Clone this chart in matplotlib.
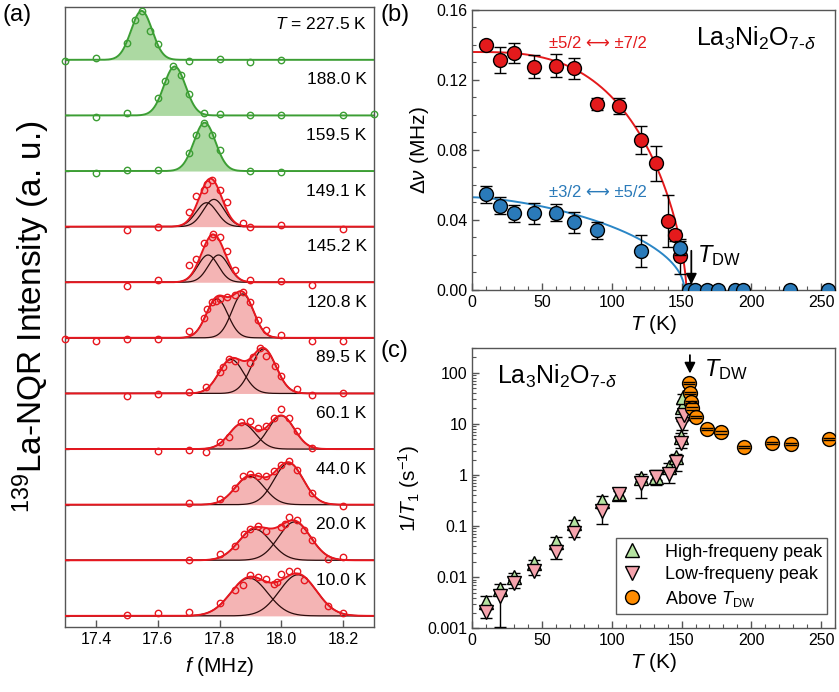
import numpy as np
import matplotlib
matplotlib.use("Agg")
import matplotlib.pyplot as plt
from matplotlib.ticker import MultipleLocator, FixedLocator, NullFormatter, LogLocator

plt.rcParams['font.family'] = ['Liberation Sans', 'DejaVu Sans']
plt.rcParams['mathtext.fontset'] = 'custom'
plt.rcParams['mathtext.rm'] = 'Liberation Sans'
plt.rcParams['mathtext.it'] = 'Liberation Sans:italic'
plt.rcParams['mathtext.bf'] = 'Liberation Sans:bold'

# ---------------- Panel (a): NQR spectra ----------------
temps_a = ['227.5', '188.0', '159.5', '149.1', '145.2', '120.8', '89.5', '60.1', '44.0', '20.0', '10.0']

f_2275 = [17.3, 17.4, 17.5, 17.525, 17.55, 17.575, 17.6, 17.7, 17.8, 17.9, 18.0]
i_2275 = [-0.02, 0.03, 0.31, 0.71, 0.88, 0.51, 0.29, -0.03, 0.02, -0.04, -0.01]
f_1880 = [17.4, 17.5, 17.6, 17.625, 17.65, 17.675, 17.7, 17.75, 17.8, 17.9, 18.0, 18.2, 18.3]
i_1880 = [-0.02, 0.04, 0.31, 0.62, 0.88, 0.73, 0.39, 0.05, 0.02, 0.0, 0.0, 0.01, 0.02]
f_1595 = [17.4, 17.5, 17.6, 17.7, 17.725, 17.75, 17.775, 17.8, 17.9, 18.0]
i_1595 = [-0.03, 0.01, 0.02, 0.32, 0.65, 0.86, 0.64, 0.37, 0.0, -0.02]
f_1491 = [17.5, 17.6, 17.7, 17.725, 17.75, 17.76, 17.775, 17.8, 17.825, 17.875, 17.9, 18.0, 18.2]
i_1491 = [-0.06, 0.0, 0.27, 0.56, 0.65, 0.77, 0.83, 0.66, 0.44, 0.06, 0.0, 0.03, -0.05]
f_1452 = [17.5, 17.6, 17.7, 17.725, 17.75, 17.775, 17.78, 17.8, 17.825, 17.85, 17.9, 18.0, 18.1]
i_1452 = [-0.07, 0.04, 0.31, 0.42, 0.70, 0.81, 0.87, 0.81, 0.57, 0.22, 0.04, 0.03, -0.05]
f_1208 = [17.3, 17.4, 17.5, 17.6, 17.7, 17.75, 17.76, 17.775, 17.79, 17.8, 17.825, 17.85,
          17.875, 17.9, 17.925, 17.95, 18.0, 18.1, 18.2]
i_1208 = [-0.02, -0.05, -0.02, -0.02, 0.13, 0.36, 0.52, 0.64, 0.66, 0.70, 0.73, 0.77,
          0.83, 0.64, 0.32, 0.14, 0.05, -0.05, -0.05]
f_895 = [17.5, 17.6, 17.7, 17.755, 17.8, 17.81, 17.83, 17.85, 17.9, 17.91, 17.93, 17.95,
         17.98, 18.0, 18.05, 18.1, 18.2]
i_895 = [-0.05, -0.01, 0.02, 0.11, 0.38, 0.47, 0.62, 0.58, 0.55, 0.65, 0.82, 0.68,
         0.50, 0.31, 0.08, -0.03, 0.01]
f_601 = [17.6, 17.7, 17.757, 17.8, 17.83, 17.87, 17.9, 17.925, 17.95, 17.975, 18.0, 18.025, 18.05, 18.1]
i_601 = [-0.03, -0.02, -0.05, 0.12, 0.22, 0.48, 0.50, 0.37, 0.42, 0.55, 0.72, 0.55, 0.33, 0.02]
f_440 = [17.7, 17.8, 17.85, 17.875, 17.9, 17.925, 17.95, 17.975, 18.0, 18.025, 18.05, 18.1, 18.2]
i_440 = [0.03, 0.11, 0.30, 0.51, 0.55, 0.51, 0.52, 0.60, 0.72, 0.78, 0.63, 0.21, -0.03]
f_200 = [17.7, 17.8, 17.85, 17.88, 17.9, 17.925, 17.95, 18.0, 18.013, 18.025, 18.05, 18.075,
         18.1, 18.15, 18.2]
i_200 = [0.0, 0.11, 0.25, 0.48, 0.57, 0.62, 0.53, 0.60, 0.66, 0.77, 0.73, 0.54, 0.36, 0.02, 0.05]
f_100 = [17.5, 17.6, 17.7, 17.8, 17.85, 17.875, 17.9, 17.925, 17.95, 17.975, 17.985, 18.0,
         18.025, 18.05, 18.075, 18.15, 18.2]
i_100 = [0.02, 0.05, 0.07, 0.24, 0.46, 0.56, 0.73, 0.70, 0.67, 0.57, 0.61, 0.76,
         0.81, 0.80, 0.65, 0.18, 0.06]

freqs_a = [f_2275, f_1880, f_1595, f_1491, f_1452, f_1208, f_895, f_601, f_440, f_200, f_100]
ints_a = [i_2275, i_1880, i_1595, i_1491, i_1452, i_1208, i_895, i_601, i_440, i_200, i_100]

# Gaussian fit components: (center MHz, sigma MHz, amplitude)
fit_a = [
    [(17.548, 0.034, 0.88)],
    [(17.655, 0.035, 0.88)],
    [(17.752, 0.035, 0.87)],
    [(17.758, 0.034, 0.43), (17.782, 0.034, 0.49)],
    [(17.763, 0.033, 0.49), (17.797, 0.033, 0.49)],
    [(17.792, 0.035, 0.70), (17.875, 0.035, 0.79)],
    [(17.838, 0.040, 0.61), (17.943, 0.040, 0.80)],
    [(17.874, 0.042, 0.46), (18.000, 0.042, 0.60)],
    [(17.898, 0.047, 0.51), (18.024, 0.047, 0.75)],
    [(17.914, 0.052, 0.56), (18.043, 0.052, 0.69)],
    [(17.896, 0.060, 0.68), (18.054, 0.060, 0.74)],
]

# ---------------- Panel (b): splitting ----------------
T_red = [10, 20, 30, 44, 60.1, 73, 89.5, 105, 120.8, 132, 140, 145.2, 149.1]
dv_red = [0.140, 0.1314, 0.1352, 0.1276, 0.1282, 0.1267, 0.1063, 0.1051, 0.0857, 0.0724, 0.0394, 0.0312, 0.0194]
err_red = [0.0, 0.0076, 0.0057, 0.0064, 0.0067, 0.0060, 0.0035, 0.0045, 0.0080, 0.0100, 0.0150, 0.0030, 0.0100]
T_blue = [10, 20, 30, 44, 60.1, 73, 89.5, 120.8, 149.1, 155, 159.5, 168, 176, 188, 194, 227.5, 255]
dv_blue = [0.0547, 0.0482, 0.0438, 0.0438, 0.0442, 0.0387, 0.0341, 0.0223, 0.0242, 0, 0, 0, 0, 0, 0, 0, 0]
err_blue = [0.0048, 0.0050, 0.0050, 0.0060, 0.0050, 0.0060, 0.0050, 0.0090, 0.0040, 0, 0, 0, 0, 0, 0, 0, 0]
# fit: A * (1 - (T/Tc)^p)^beta
fit_red = dict(A=0.136, Tc=153.5, p=3.0, beta=0.65)
fit_blue = dict(A=0.053, Tc=152.0, p=1.5, beta=0.5)

# ---------------- Panel (c): 1/T1 ----------------
T_hf = [10, 20, 30, 44, 60.1, 73, 93, 105, 120.8, 132, 141, 146, 149.5, 150.5, 151.2]
r_hf = [0.0033, 0.0058, 0.0102, 0.019, 0.0495, 0.117, 0.31, 0.42, 0.88, 0.92, 1.45, 2.27, 5.4, 21, 33]
lo_hf = [0.0028, 0.0049, 0.0088, 0.016, 0.042, 0.10, 0.26, 0.36, 0.75, 0.78, 1.23, 1.93, 4.6, 18, 28]
hi_hf = [0.0042, 0.0072, 0.0120, 0.022, 0.062, 0.13, 0.38, 0.52, 1.05, 1.25, 1.70, 2.60, 6.5, 24, 38]
T_lf = [10, 20, 30, 44, 60.1, 73, 93, 105, 120.8, 132, 141, 146, 149.5, 150.5, 152]
r_lf = [0.0021, 0.0042, 0.0076, 0.0134, 0.0306, 0.072, 0.20, 0.42, 0.71, 0.90, 1.04, 1.8, 4.15, 9.8, 14.9]
lo_lf = [0.0016, 0.00105, 0.0062, 0.011, 0.023, 0.060, 0.11, 0.32, 0.35, 0.63, 0.70, 1.2, 3.3, 7.5, 12]
hi_lf = [0.0024, 0.0048, 0.0087, 0.0154, 0.035, 0.083, 0.23, 0.48, 0.82, 1.04, 1.20, 2.07, 4.8, 11.3, 17]
T_ab = [155.4, 155.9, 156.6, 157.8, 160, 168, 178, 195, 214.6, 228.5, 255.9]
r_ab = [63.6, 39.5, 27, 20, 13.8, 7.8, 6.8, 3.57, 4.27, 4.03, 4.97]

W, H = 839, 692
fig = plt.figure(figsize=(W / 100, H / 100), dpi=100)

def px_axes(l, t, r, b):
    return fig.add_axes([l / W, 1 - b / H, (r - l) / W, (b - t) / H])

spine_col = '#555555'

def style(ax):
    for s in ax.spines.values():
        s.set_color(spine_col)
        s.set_linewidth(1.0)
    ax.tick_params(which='both', direction='in', colors=spine_col, labelcolor='black',
                   labelsize=11.5, top=False, right=False)
    ax.tick_params(which='major', length=5, width=1.0)
    ax.tick_params(which='minor', length=3, width=0.8)

# ----- (a)
axa = px_axes(65, 7, 374, 627)
style(axa)
n = len(temps_a)
xx = np.linspace(17.3, 18.3, 600)
for k in range(n):
    off = n - 1 - k
    green = k < 3
    lc = '#3c9e34' if green else '#e8171f'
    fc = '#acd9a2' if green else '#f4b4b4'
    comps = [c * np.exp(-(xx - m) ** 2 / (2 * s ** 2)) for (m, s, c) in fit_a[k]]
    tot = np.sum(comps, axis=0)
    axa.fill_between(xx, off, off + tot, color=fc, lw=0, zorder=1)
    if len(comps) > 1:
        for cc in comps:
            axa.plot(xx, off + cc, color='#2a0c0c', lw=0.9, zorder=2)
    axa.plot(xx, off + tot, color=lc, lw=1.4, zorder=3)
    axa.plot(freqs_a[k], np.array(ints_a[k]) + off, 'o', ms=4.6, mfc='none', mec=lc, mew=1.0,
             zorder=4, clip_on=False)
    lab = (r'$T$ = ' + temps_a[k] + ' K') if k == 0 else (temps_a[k] + ' K')
    axa.text(18.276, off + 0.64, lab, ha='right', va='center', fontsize=12.5)
axa.set_xlim(17.3, 18.3)
axa.set_ylim(-0.2, 10.95)
axa.xaxis.set_major_locator(FixedLocator([17.4, 17.6, 17.8, 18.0, 18.2]))
axa.set_xticklabels(['17.4', '17.6', '17.8', '18.0', '18.2'])
axa.yaxis.set_major_locator(FixedLocator(list(range(n))))
axa.set_yticklabels([])
axa.tick_params(axis='y', length=3)
axa.set_xlabel(r'$f$ (MHz)', fontsize=15, labelpad=6)
axa.set_ylabel(r'$^{139}$La-NQR Intensity (a. u.)', fontsize=24, labelpad=6)
fig.text(3 / W, 1 - 4 / H, '(a)', fontsize=17, ha='left', va='top')

# ----- (b)
axb = px_axes(472.3, 10, 835, 290)
style(axb)
tt = np.linspace(0, 160, 800)
for fp, col in [(fit_red, '#e41a1c'), (fit_blue, '#2a86c6')]:
    tr = np.clip(tt / fp['Tc'], 0, 1)
    yy = fp['A'] * (1 - tr ** fp['p']) ** fp['beta']
    axb.plot(tt, yy, color=col, lw=1.4, zorder=2)
axb.errorbar(T_red, dv_red, yerr=err_red, fmt='o', ms=10, mfc='#e41a1c', mec='black', mew=1.0,
             ecolor='black', elinewidth=1.0, capsize=4, capthick=1.0, zorder=3)
axb.errorbar(T_blue, dv_blue, yerr=err_blue, fmt='o', ms=10, mfc='#2a7ab9', mec='black', mew=1.0,
             ecolor='black', elinewidth=1.0, capsize=4, capthick=1.0, zorder=4)
axb.set_xlim(0, 260)
axb.set_ylim(0, 0.16)
axb.xaxis.set_major_locator(MultipleLocator(50))
axb.xaxis.set_minor_locator(MultipleLocator(10))
axb.yaxis.set_major_locator(MultipleLocator(0.04))
axb.yaxis.set_minor_locator(MultipleLocator(0.01))
axb.yaxis.set_major_formatter(matplotlib.ticker.FormatStrFormatter('%.2f'))
axb.set_xlabel(r'$T$ (K)', fontsize=15, labelpad=2)
axb.set_ylabel(r'$\Delta\nu$ (MHz)', fontsize=15, labelpad=4)
axb.text(55, 0.141, '±5/2 \u27f7 ±7/2', color='#e41a1c', fontsize=12, va='center', ha='left')
axb.text(55, 0.0556, '±3/2 \u27f7 ±5/2', color='#2a7ab9', fontsize=12, va='center', ha='left')
axb.text(160.5, 0.1438, r'La$_3$Ni$_2$O$_{7\text{-}\delta}$', fontsize=18, va='center', ha='left')
axb.annotate('', xy=(157, 0.0015), xytext=(157, 0.024),
             arrowprops=dict(arrowstyle='-|>', color='black', lw=1.3, mutation_scale=16), zorder=6)
axb.text(161, 0.0195, r'$T_\mathrm{DW}$', fontsize=17, va='center', ha='left')
fig.text(381 / W, 1 - 4 / H, '(b)', fontsize=17, ha='left', va='top')

# ----- (c)
axc = px_axes(472.3, 348.3, 835, 628.3)
style(axc)
axc.set_yscale('log')
ekw = dict(ecolor='black', elinewidth=1.0, capsize=4, capthick=1.0)
axc.errorbar(T_hf, r_hf, yerr=[np.array(r_hf) - np.array(lo_hf), np.array(hi_hf) - np.array(r_hf)],
             fmt='^', ms=10, mfc='#b5e3a1', mec='black', mew=1.0, zorder=3,
             label='High-frequeny peak', **ekw)
axc.errorbar(T_lf, r_lf, yerr=[np.array(r_lf) - np.array(lo_lf), np.array(hi_lf) - np.array(r_lf)],
             fmt='v', ms=10, mfc='#f5a3ad', mec='black', mew=1.0, zorder=4,
             label='Low-frequeny peak', **ekw)
ab = axc.errorbar(T_ab, r_ab, yerr=np.array(r_ab) * 0.05, fmt='o', ms=10, mfc='#ff8c00', mec='black',
                  mew=1.0, zorder=5, label=r'Above $T_\mathrm{DW}$', **ekw)
for art in ab.lines[1]:
    art.set_zorder(6)
axc.set_xlim(0, 260)
axc.set_ylim(0.001, 300)
axc.xaxis.set_major_locator(MultipleLocator(50))
axc.xaxis.set_minor_locator(MultipleLocator(10))
axc.yaxis.set_major_locator(FixedLocator([0.001, 0.01, 0.1, 1, 10, 100]))
axc.set_yticklabels(['0.001', '0.01', '0.1', '1', '10', '100'])
axc.yaxis.set_minor_locator(LogLocator(base=10, subs=np.arange(2, 10), numticks=20))
axc.yaxis.set_minor_formatter(NullFormatter())
axc.set_xlabel(r'$T$ (K)', fontsize=15, labelpad=2)
axc.set_ylabel(r'1/$T_1$ (s$^{-1}$)', fontsize=15, labelpad=4)
axc.text(18, 83, r'La$_3$Ni$_2$O$_{7\text{-}\delta}$', fontsize=18, va='center', ha='left')
axc.annotate('', xy=(156, 85), xytext=(156, 250),
             arrowprops=dict(arrowstyle='-|>', color='black', lw=1.3, mutation_scale=16), zorder=6)
axc.text(166, 115, r'$T_\mathrm{DW}$', fontsize=17, va='center', ha='left')
handles, labels = axc.get_legend_handles_labels()
hl = [h[0] for h in handles]
leg = axc.legend(hl, labels, loc='lower right', bbox_to_anchor=(0.979, 0.051), borderaxespad=0,
                 fontsize=13, frameon=True, fancybox=False, edgecolor='#333333',
                 handlelength=1.2, handletextpad=1.2, labelspacing=0.3, borderpad=0.3)
leg.get_frame().set_linewidth(1.0)
fig.text(381 / W, 1 - 340 / H, '(c)', fontsize=17, ha='left', va='top')

fig.savefig('out.png', dpi=100)
